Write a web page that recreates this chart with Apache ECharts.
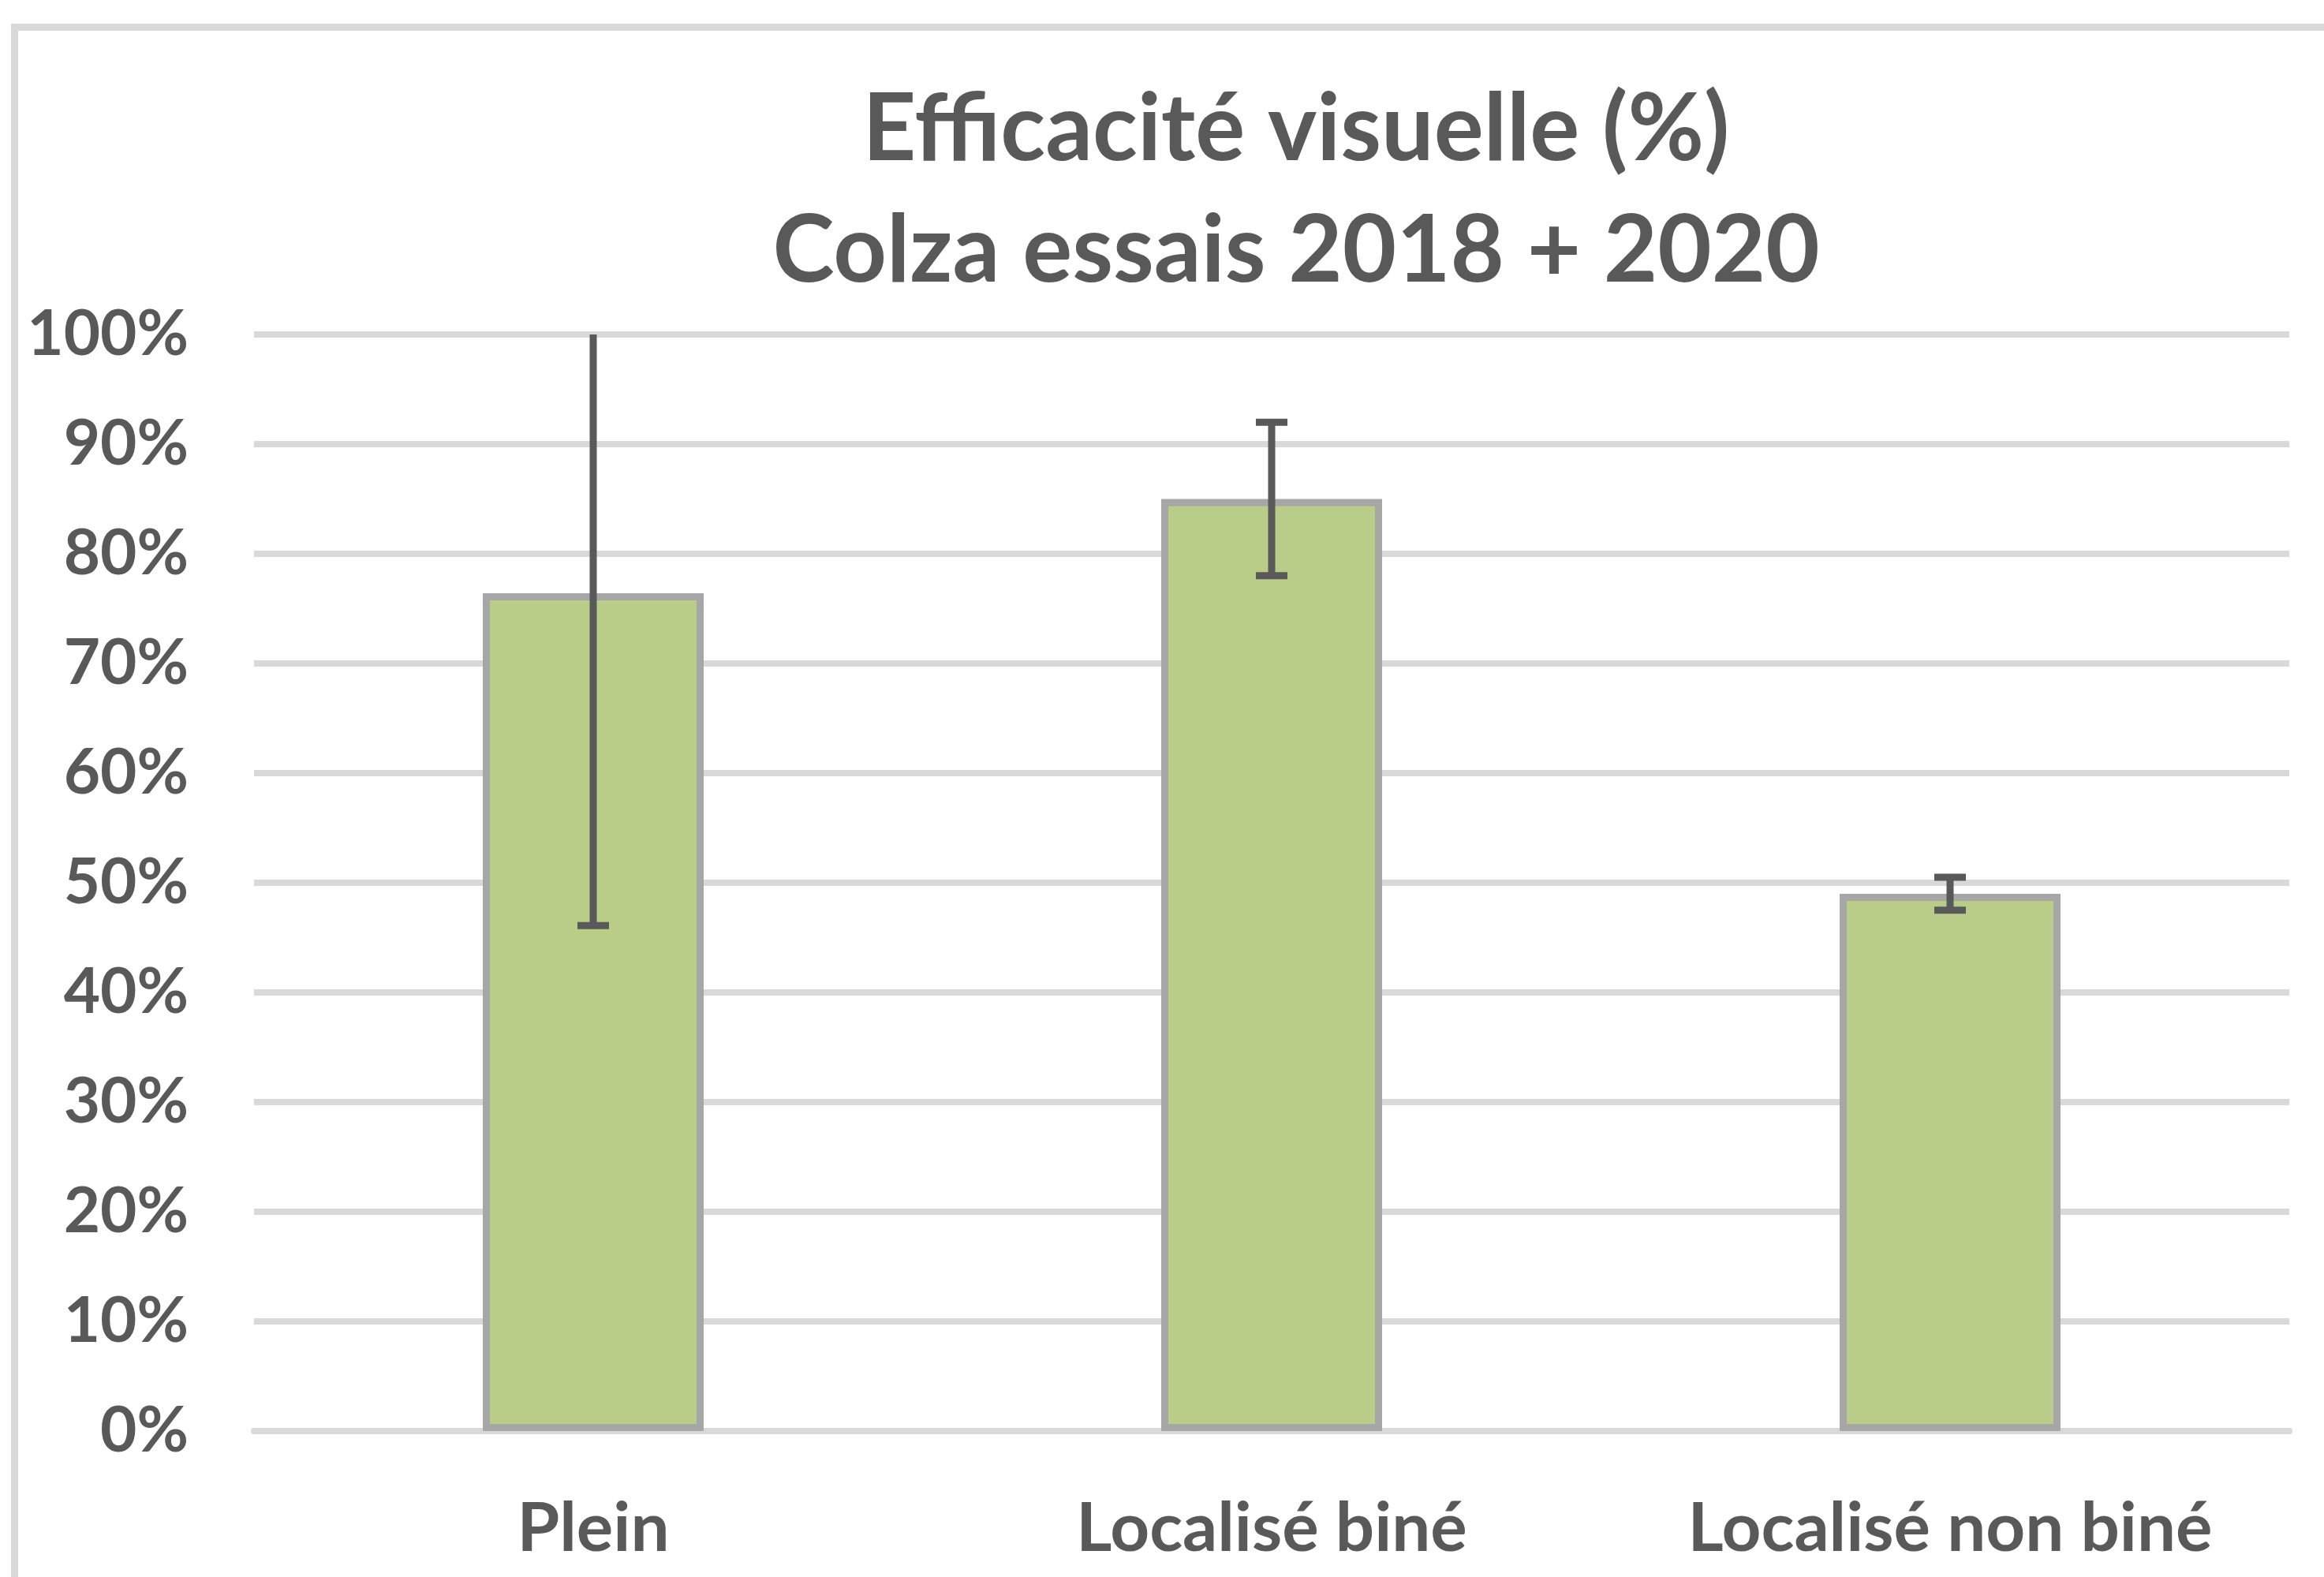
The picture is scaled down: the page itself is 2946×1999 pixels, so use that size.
<!DOCTYPE html>
<html>
<head>
<meta charset="utf-8">
<script src="https://cdn.jsdelivr.net/npm/echarts@6/dist/echarts.min.js"></script>
<style>
html,body{margin:0;padding:0;background:#fff;}
#chart{width:2946px;height:1999px;}
</style>
</head>
<body>
<div id="chart"></div>
<script>
const titleLines = ['Efficacité visuelle (%)', 'Colza essais 2018 + 2020'];
const categories = ['Plein', 'Localisé biné', 'Localisé non biné'];
const values = [76.4, 85, 49];
const errors = [30.3, 7, 1.5];
const yTicks = { min: 0, max: 100, interval: 10 };

const chart = echarts.init(document.getElementById('chart'));
const textColor = '#595959';
const font = 'Lato';

chart.setOption({
  animation: false,
  backgroundColor: '#ffffff',
  graphic: [{
    type: 'rect',
    shape: { x: 18.5, y: 34.5, width: 3200, height: 2200 },
    style: { fill: 'none', stroke: '#D9D9D9', lineWidth: 9 },
    silent: true
  }],
  title: {
    text: titleLines.join('\n'),
    left: 1638,
    top: 83,
    textAlign: 'center',
    textStyle: {
      fontFamily: font,
      fontWeight: 'bold',
      fontSize: 118,
      lineHeight: 154,
      color: textColor
    }
  },
  grid: { left: 322, right: 44, top: 424, bottom: 185, containLabel: false },
  xAxis: {
    type: 'category',
    data: categories,
    axisLine: { show: true, lineStyle: { color: '#D9D9D9', width: 8 } },
    axisTick: { show: false },
    axisLabel: {
      interval: 0,
      margin: 80,
      fontFamily: font,
      fontWeight: 'bold',
      fontSize: 87,
      color: textColor
    }
  },
  yAxis: {
    type: 'value',
    min: yTicks.min,
    max: yTicks.max,
    interval: yTicks.interval,
    axisLine: { show: false },
    axisTick: { show: false },
    splitLine: { lineStyle: { color: '#D9D9D9', width: 8 } },
    axisLabel: {
      formatter: '{value}%',
      margin: 83,
      fontFamily: font,
      fontWeight: 'bold',
      fontSize: 80,
      color: textColor
    }
  },
  series: [{
    type: 'bar',
    data: values,
    barWidth: 280,
    itemStyle: { color: '#B9CC88', borderColor: '#A6A6A6', borderWidth: 9 },
    z: 2
  }, {
    type: 'custom',
    z: 5,
    data: categories.map((c, i) => [i, values[i], errors[i]]),
    renderItem: function (params, api) {
      const idx = api.value(0), v = api.value(1), e = api.value(2);
      const hiRaw = v + e;
      const hi = Math.min(hiRaw, yTicks.max);
      const lo = Math.max(v - e, yTicks.min);
      const pHi = api.coord([idx, hi]);
      const pLo = api.coord([idx, lo]);
      const half = 20;
      const style = { stroke: '#595959', lineWidth: 9, fill: null };
      const children = [{
        type: 'line',
        shape: { x1: pHi[0], y1: pHi[1], x2: pLo[0], y2: pLo[1] },
        style: style
      }, {
        type: 'line',
        shape: { x1: pLo[0] - half, y1: pLo[1], x2: pLo[0] + half, y2: pLo[1] },
        style: style
      }];
      if (hiRaw <= yTicks.max) {
        children.push({
          type: 'line',
          shape: { x1: pHi[0] - half, y1: pHi[1], x2: pHi[0] + half, y2: pHi[1] },
          style: style
        });
      }
      return { type: 'group', children: children };
    }
  }]
});
</script>
</body>
</html>
